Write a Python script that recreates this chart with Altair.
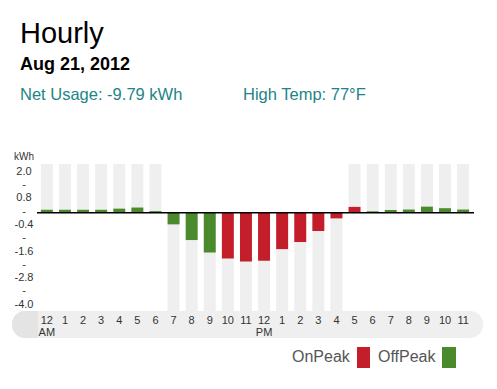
import altair as alt
import pandas as pd

# ---- data ----
hours = list(range(24))
hour_labels = ["12", "1", "2", "3", "4", "5", "6", "7", "8", "9", "10", "11",
               "12", "1", "2", "3", "4", "5", "6", "7", "8", "9", "10", "11"]
ampm = {0: "AM", 12: "PM"}
usage_kwh = [0.13, 0.13, 0.13, 0.13, 0.18, 0.23, 0.07, -0.53, -1.24, -1.80,
             -2.08, -2.21, -2.18, -1.65, -1.33, -0.83, -0.26, 0.26, 0.06, 0.12,
             0.14, 0.27, 0.20, 0.14]
period = ["OffPeak"] * 10 + ["OnPeak"] * 8 + ["OffPeak"] * 6
y_ticks = [2.0, 1.4, 0.8, 0.2, -0.4, -1.0, -1.6, -2.2, -2.8, -3.4, -4.0]
y_tick_labels = ["2.0", "-", "0.8", "-", "-0.4", "-", "-1.6", "-", "-2.8", "-", "-4.0"]
legend_items = ["OnPeak", "OffPeak"]
title_text = "Hourly"
date_text = "Aug 21, 2012"
net_text = "Net Usage: -9.79 kWh"
temp_text = "High Temp: 77°F"
unit_text = "kWh"

Y_MIN, Y_MAX = -4.45, 2.2
RED, GREEN = "#c41e2b", "#4a8a2c"
TEAL = "#1e8487"

df = pd.DataFrame({"hour": hours, "kwh": usage_kwh, "period": period})
df["bg"] = [Y_MAX if v >= 0 else Y_MIN for v in usage_kwh]
df["zero"] = 0.0
ytick_df = pd.DataFrame({"v": y_ticks, "lab": y_tick_labels})

# x label expression (12 / AM etc.)
lab_map = "{" + ",".join(
    f"'{h}': " + (f"['{hour_labels[h]}','{ampm[h]}']" if h in ampm else f"'{hour_labels[h]}'")
    for h in hours) + "}"

W, H = 434, 147

xscale = alt.Scale(paddingInner=0.34, paddingOuter=0.16)
yscale = alt.Scale(domain=[Y_MIN, Y_MAX], nice=False, zero=False)
colscale = alt.Scale(domain=legend_items, range=[RED, GREEN])

base = alt.Chart(df)

# decorative x-axis band
band_light = alt.Chart(pd.DataFrame({"a": [0]})).mark_rect(
    color="#efefef", cornerRadius=13).encode(
    x=alt.value(-26), x2=alt.value(445), y=alt.value(147), y2=alt.value(174))
band_dark = alt.Chart(pd.DataFrame({"a": [0]})).mark_rect(
    color="#e4e4e4", cornerRadiusTopLeft=13, cornerRadiusBottomLeft=13).encode(
    x=alt.value(-26), x2=alt.value(0), y=alt.value(147), y2=alt.value(174))

bg = base.mark_bar(color="#efefef").encode(
    x=alt.X("hour:O", scale=xscale,
            axis=alt.Axis(title=None, labelAngle=0, domain=False, ticks=False,
                          labelExpr=f"{lab_map}[datum.value]", zindex=2,
                          labelFont="Liberation Sans", labelFontSize=11,
                          labelColor="#333", labelPadding=3, labelLineHeight=12,
                          labelOverlap=False)),
    y=alt.Y("zero:Q", scale=yscale, axis=None),
    y2="bg:Q",
)

bars = base.mark_bar().encode(
    x=alt.X("hour:O", scale=xscale),
    y=alt.Y("zero:Q", scale=yscale, axis=None),
    y2="kwh:Q",
    color=alt.Color("period:N", scale=colscale, legend=None),
)

zero_rule = alt.Chart(pd.DataFrame({"z": [0.0]})).mark_rule(
    color="black", strokeWidth=1.5).encode(
    y=alt.Y("z:Q", scale=yscale, axis=None), x=alt.value(-1), x2=alt.value(436))

# y-axis tick labels through the y scale
ylabels = alt.Chart(ytick_df).mark_text(
    align="center", baseline="middle", dy=3.5, font="Liberation Sans",
    fontSize=11, color="#333").encode(
    y=alt.Y("v:Q", scale=yscale, axis=None), x=alt.value(-14), text="lab:N")


def txt(text, x, y, size, color="black", weight="normal"):
    return alt.Chart(pd.DataFrame({"t": [text]})).mark_text(
        align="left", baseline="alphabetic", font="Liberation Sans",
        fontSize=size, color=color, fontWeight=weight).encode(
        text="t:N", x=alt.value(x), y=alt.value(y))


titles = [
    txt(title_text, -18, -121, 29),
    txt(date_text, -18, -94, 18, weight="bold"),
    txt(net_text, -18, -64, 16.5, color=TEAL),
    txt(temp_text, 205, -64, 16.5, color=TEAL),
    txt(unit_text, -24, -4, 10, color="#333"),
]

# legend: label then swatch
leg_df_on = pd.DataFrame({"period": [legend_items[0]]})
leg_df_off = pd.DataFrame({"period": [legend_items[1]]})
legend = [
    txt(legend_items[0], 254, 198, 16, color="#555"),
    alt.Chart(leg_df_on).mark_rect().encode(
        x=alt.value(319), x2=alt.value(332), y=alt.value(183), y2=alt.value(204),
        color=alt.Color("period:N", scale=colscale, legend=None)),
    txt(legend_items[1], 340, 198, 16, color="#555"),
    alt.Chart(leg_df_off).mark_rect().encode(
        x=alt.value(404), x2=alt.value(418), y=alt.value(183), y2=alt.value(204),
        color=alt.Color("period:N", scale=colscale, legend=None)),
]

chart = alt.layer(band_light, band_dark, bg, bars, zero_rule, ylabels, *titles, *legend).properties(
    width=W, height=H,
    autosize=alt.AutoSizeParams(type="none"),
    padding={"left": 30, "top": 156, "right": 17, "bottom": 65},
).configure_view(stroke=None).resolve_scale(color="shared")

chart.save("out.html", embed_options={"renderer": "svg", "actions": False})
